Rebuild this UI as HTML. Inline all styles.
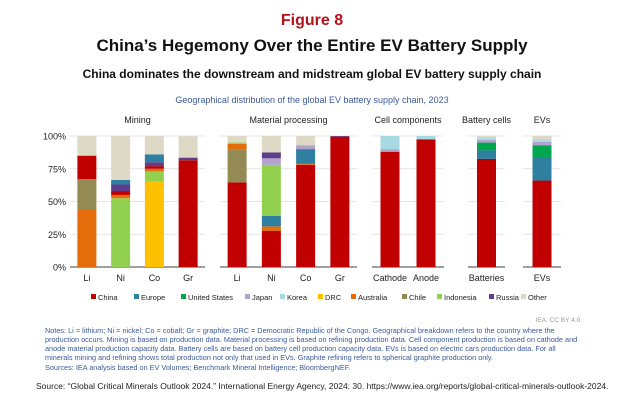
<!DOCTYPE html>
<html><head><meta charset="utf-8"><style>
body{margin:0;background:#fff;}
svg text{font-family:"Liberation Sans",Arial,sans-serif;}
</style></head><body>
<svg id="c" width="624" height="403" viewBox="0 0 624 403" xmlns="http://www.w3.org/2000/svg">
<text x="312" y="25" text-anchor="middle" font-size="16" font-weight="bold" fill="#b5121b">Figure 8</text>
<text x="312" y="51" text-anchor="middle" font-size="17" font-weight="bold" fill="#111">China’s Hegemony Over the Entire EV Battery Supply</text>
<text x="312" y="78" text-anchor="middle" font-size="12" font-weight="bold" fill="#111">China dominates the downstream and midstream global EV battery supply chain</text>
<text x="312" y="103" text-anchor="middle" font-size="9" fill="#3b5a9a">Geographical distribution of the global EV battery supply chain, 2023</text>
<g id="plot"></g>
<g id="legend"></g>
<text x="582" y="322" text-anchor="end" font-size="6.5" fill="#999">IEA. CC BY 4.0.</text>
<g font-size="7.3" fill="#3b5a9a">
<text x="45" y="333">Notes: Li = lithium; Ni = nickel; Co = cobalt; Gr = graphite; DRC = Democratic Republic of the Congo. Geographical breakdown refers to the country where the</text>
<text x="45" y="342">production occurs. Mining is based on production data. Material processing is based on refining production data. Cell component production is based on cathode and</text>
<text x="45" y="351">anode material production capacity data. Battery cells are based on battery cell production capacity data. EVs is based on electric cars production data. For all</text>
<text x="45" y="360">minerals mining and refining shows total production not only that used in EVs. Graphite refining refers to spherical graphite production only.</text>
<text x="45" y="370">Sources: IEA analysis based on EV Volumes; Benchmark Mineral Intelligence; BloombergNEF.</text>
</g>
<text x="36" y="389" font-size="8.5" fill="#222">Source:  “Global Critical Minerals Outlook 2024.” International Energy Agency, 2024: 30. https://www.iea.org/reports/global-critical-minerals-outlook-2024.</text>
</svg>
<script>
const categories=["Li","Ni","Co","Gr","Li","Ni","Co","Gr","Cathode","Anode","Batteries","EVs"];
const panelTitles=["Mining","Material processing","Cell components","Battery cells","EVs"];
const panelOf=[0,0,0,0,1,1,1,1,2,2,3,4];
const yTicks=[0,25,50,75,100];
const China=[18,3,2,81.5,64.6,27.5,78,99.5,88,97.5,82.5,66];
const Europe=[0,3.5,6,0,0,8,11,0,0,0,6.5,18];
const UnitedStates=[0,0,0,0,0,0,0,0,0,0,6,9];
const Japan=[0,0,0,0,0,5,3,0,2,0,2,2.5];
const Korea=[0,0,0,0,0,0,0,0,10,2.5,1.5,2];
const DRC=[0,0,65,0,0,0,0,0,0,0,0,0];
const Australia=[43.5,2.5,2,0,4,3.5,1,0,0,0,0,0];
const Chile=[23.5,0,0,0,25.4,0,0,0,0,0,0,0];
const Indonesia=[0,52.5,8,0,1,39,0,0,0,0,0,0];
const Russia=[0,5,3,2,0,4.5,0,0.5,0,0,0,0];
const Other=[15,33.5,14,16.5,5,12.5,7,0,0,0,1.5,2.5];
const seriesNames=["China","Europe","United States","Japan","Korea","DRC","Australia","Chile","Indonesia","Russia","Other"];
const seriesVals=[China,Europe,UnitedStates,Japan,Korea,DRC,Australia,Chile,Indonesia,Russia,Other];
const colors=["#c00000","#2e7fa0","#00a650","#b3a3cc","#a6d9e3","#ffc000","#e46c0a","#948a54","#92d050","#5e3d8a","#ddd9c4"];
const orderMining=["DRC","Indonesia","Australia","Chile","China","Russia","Europe","Other"];
const orderProc=["China","Chile","Australia","Europe","Indonesia","Japan","Russia","Other"];
const orderDown=["China","Europe","United States","Japan","Korea","Other"];
const panelOrder=[orderMining,orderProc,orderDown,orderDown,orderDown];

const NS="http://www.w3.org/2000/svg";
const plot=document.getElementById('plot');
const panels=[[70,205],[220,357],[372,444],[468,505],[523,561]];
const y0=267,y1=136;
function y(v){return y0-(v/100)*(y0-y1);}
function mk(tag,attrs,parent){const e=document.createElementNS(NS,tag);for(const k in attrs)e.setAttribute(k,attrs[k]);parent.appendChild(e);return e;}
yTicks.forEach(t=>{const tx=mk('text',{x:66,y:y(t)+3.5,'text-anchor':'end','font-size':9,fill:'#222'},plot);tx.textContent=t+'%';

});
panels.forEach((p,pi)=>{
 yTicks.forEach(t=>{const l=mk('line',{x1:p[0],x2:p[1],y1:y(t),y2:y(t),stroke:t===0?'#666':'#ddd','stroke-width':t===0?1.2:0.8},plot);
 
 });
 const tt=mk('text',{x:(p[0]+p[1])/2,y:123,'text-anchor':'middle','font-size':9,fill:'#222'},plot);tt.textContent=panelTitles[pi];
 
 
});
categories.forEach((cat,i)=>{
 const pi=panelOf[i],p=panels[pi];
 const idxs=categories.map((c,j)=>j).filter(j=>panelOf[j]===pi);
 const k=idxs.indexOf(i),step=(p[1]-p[0])/idxs.length;
 const cx=p[0]+(k+0.5)*step,w=19;
 let acc=0;
 panelOrder[pi].forEach(name=>{
  const si=seriesNames.indexOf(name),v=seriesVals[si][i];
  if(v<=0)return;
  const r=mk('rect',{x:cx-w/2,y:y(acc+v),width:w,height:y(acc)-y(acc+v),fill:colors[si]},plot);
  
  
  acc+=v;
 });
 const lt=mk('text',{x:cx,y:281,'text-anchor':'middle','font-size':9,fill:'#222'},plot);lt.textContent=cat;
 
 
});
const lg=document.getElementById('legend');
const legX=[91,134,181,245,280,318,351,402,437,489,521];
seriesNames.forEach((n,i)=>{
 const r=mk('rect',{x:legX[i],y:294,width:5,height:5,fill:colors[i]},lg);
 
 
 const t=mk('text',{x:legX[i]+7,y:300,'font-size':7.5,fill:'#222'},lg);t.textContent=n;
 
 
});
</script>
</body></html>
